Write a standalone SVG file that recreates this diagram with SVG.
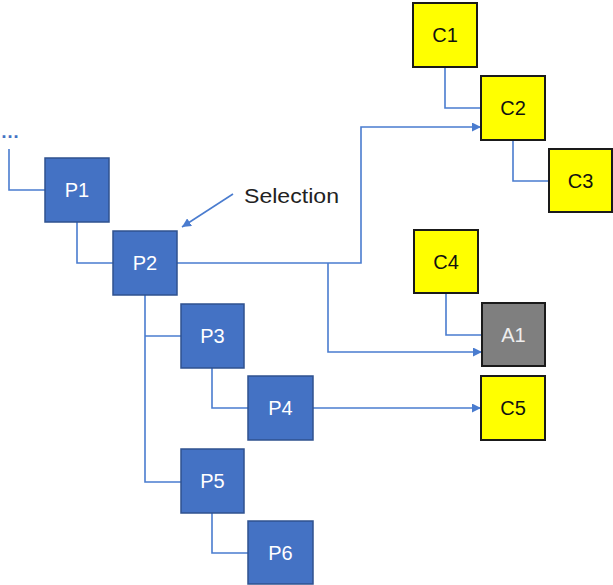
<svg xmlns="http://www.w3.org/2000/svg" width="613" height="585" viewBox="0 0 613 585">
<style>
.c{fill:none;stroke:#4A7CCF;stroke-width:1.6}
.p rect{fill:#4472C4;stroke:#2F528F;stroke-width:1.5}
.p text{fill:#fff}
.y rect{fill:#FFFF00;stroke:#1a1a1a;stroke-width:2}
.y text{fill:#111}
.g rect{fill:#7F7F7F;stroke:#1a1a1a;stroke-width:2}
.g text{fill:#eeeeee}
text{font-family:"Liberation Sans",Arial,sans-serif;font-size:20px;text-anchor:middle}
</style>
<defs>
<marker id="ah" viewBox="0 0 10 10" refX="10" refY="5" markerWidth="9" markerHeight="9" markerUnits="userSpaceOnUse" orient="auto">
<path d="M0,0 L10,5 L0,10 z" fill="#4A7CCF"/>
</marker>
</defs>
<g id="connectors">
<path class="c" d="M9,149 V190 H45"/>
<path class="c" d="M77,222 V263 H113"/>
<path class="c" d="M177,263 H361 V127 H481" marker-end="url(#ah)"/>
<path class="c" d="M328,263 V352 H482" marker-end="url(#ah)"/>
<path class="c" d="M145,295 V482 H181"/>
<path class="c" d="M145,336 H181"/>
<path class="c" d="M212,368 V408 H248"/>
<path class="c" d="M313,408 H481" marker-end="url(#ah)"/>
<path class="c" d="M212,513 V553 H248"/>
<path class="c" d="M445,67 V108 H481"/>
<path class="c" d="M513,140 V181 H549"/>
<path class="c" d="M446,293 V335 H482"/>
<path class="c" d="M233,194 L182,227" marker-end="url(#ah)"/>
</g>
<g id="ellipsis"><text x="10" y="138" style="fill:#4472C4;font-size:19px;font-weight:bold">…</text></g>
<g id="selection-label"><text x="244" y="203" style="text-anchor:start;fill:#222" textLength="95" lengthAdjust="spacingAndGlyphs">Selection</text></g>
<g id="P1" class="p"><rect x="45" y="158" width="64" height="64"/><text x="77" y="197">P1</text></g>
<g id="P2" class="p"><rect x="113" y="231" width="64" height="64"/><text x="145" y="270">P2</text></g>
<g id="P3" class="p"><rect x="181" y="304" width="63" height="64"/><text x="212.5" y="343">P3</text></g>
<g id="P4" class="p"><rect x="248" y="376" width="65" height="64"/><text x="280.5" y="415">P4</text></g>
<g id="P5" class="p"><rect x="181" y="449" width="63" height="64"/><text x="212.5" y="488">P5</text></g>
<g id="P6" class="p"><rect x="248" y="521" width="65" height="63"/><text x="280.5" y="560">P6</text></g>
<g id="C1" class="y"><rect x="413" y="3" width="64" height="64"/><text x="445" y="42">C1</text></g>
<g id="C2" class="y"><rect x="481" y="76" width="64" height="64"/><text x="513" y="115">C2</text></g>
<g id="C3" class="y"><rect x="549" y="149" width="63" height="63"/><text x="580.5" y="188">C3</text></g>
<g id="C4" class="y"><rect x="414" y="230" width="64" height="63"/><text x="446" y="269">C4</text></g>
<g id="A1" class="g"><rect x="482" y="303" width="63" height="63"/><text x="513.5" y="342">A1</text></g>
<g id="C5" class="y"><rect x="481" y="376" width="64" height="64"/><text x="513" y="415">C5</text></g>
</svg>
